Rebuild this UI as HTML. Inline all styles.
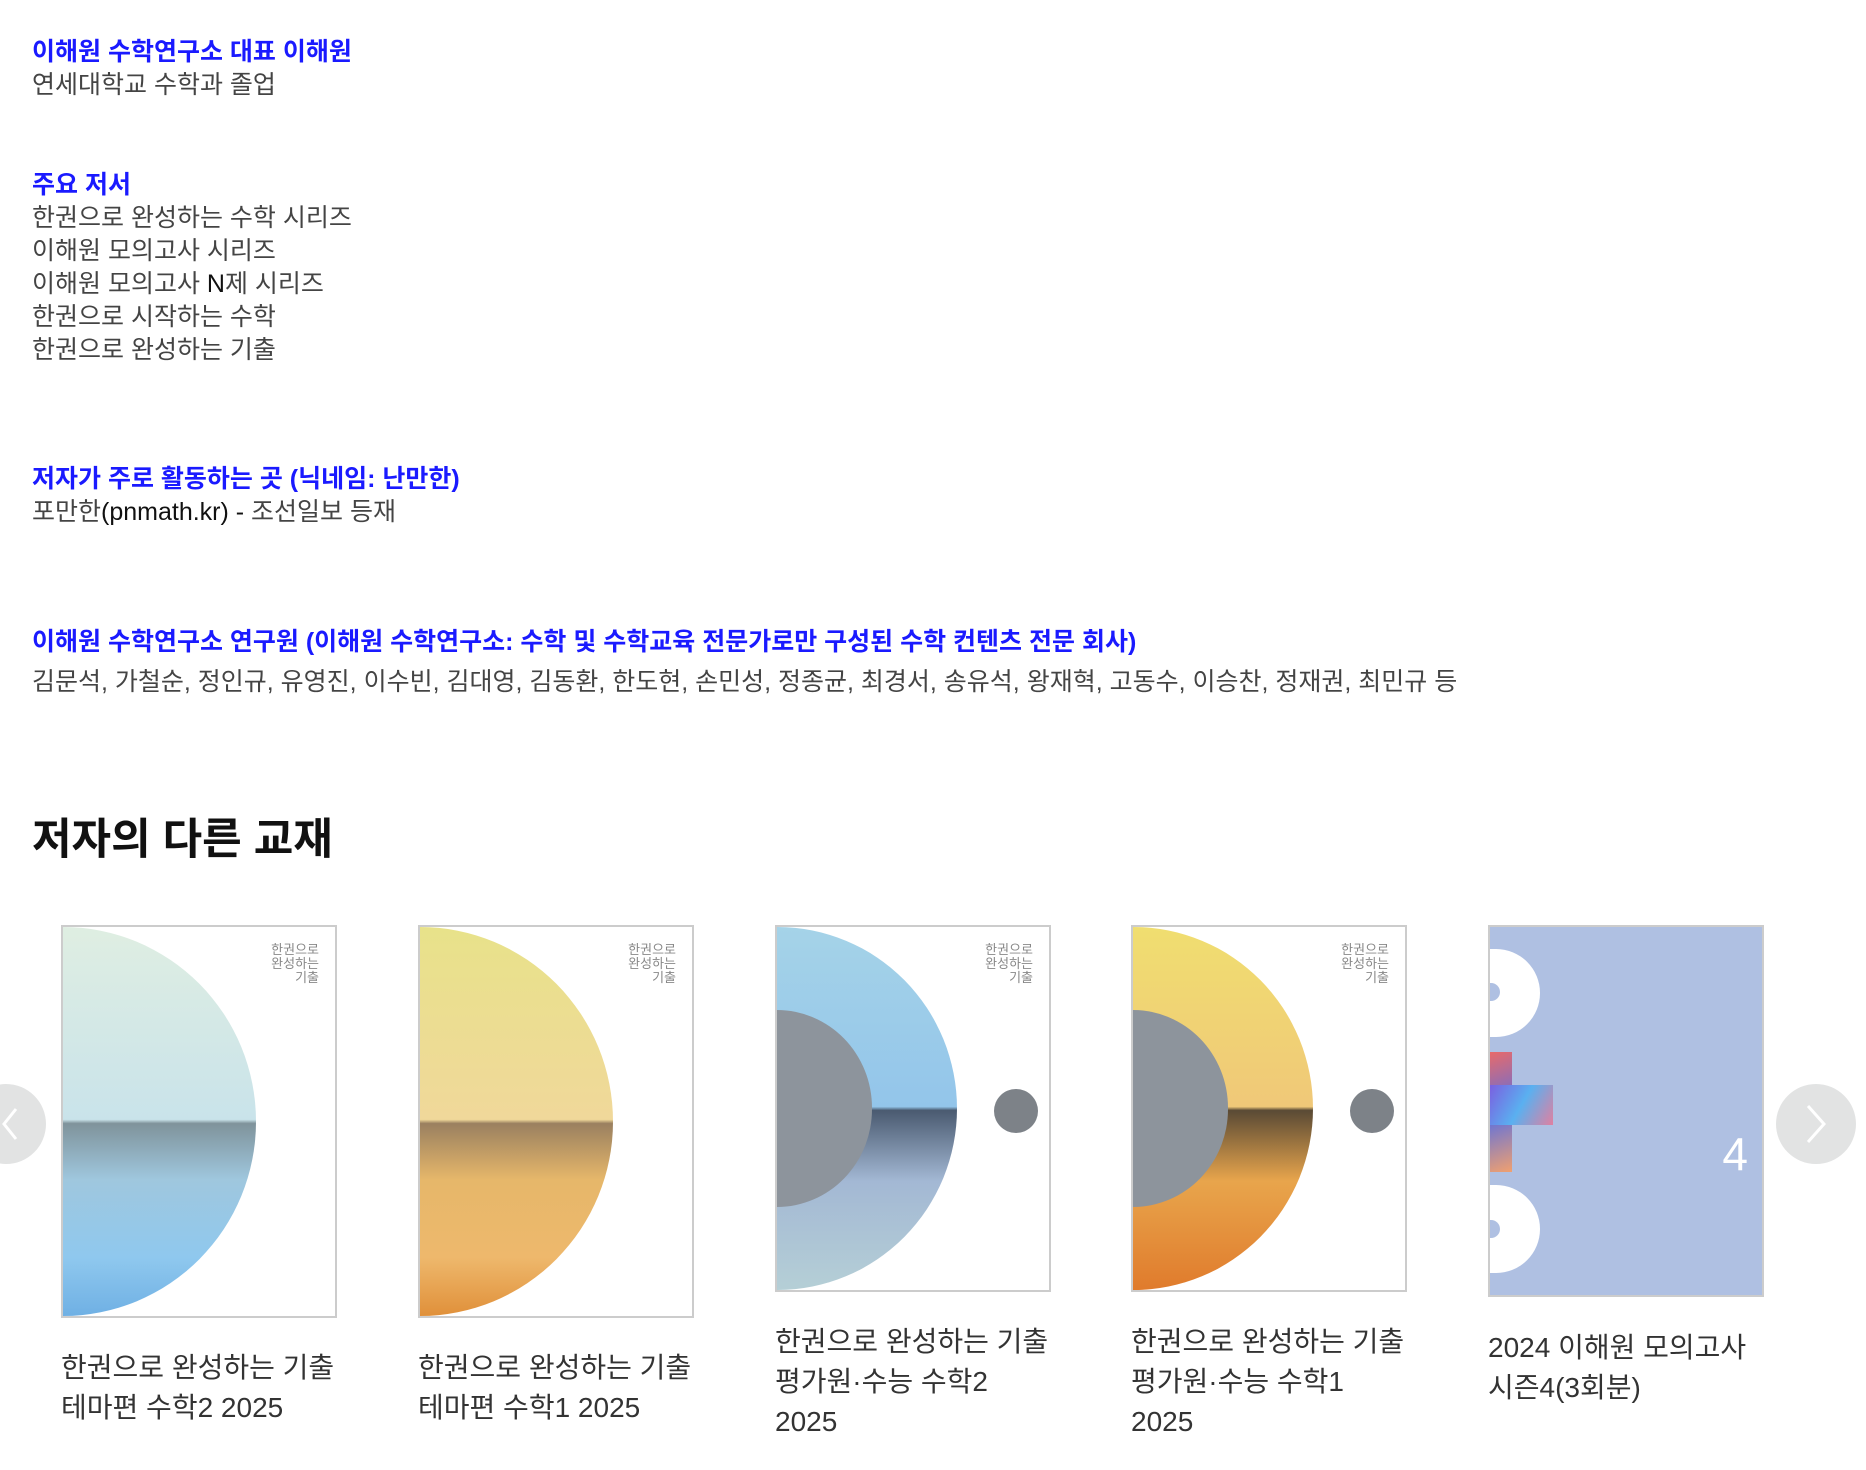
<!DOCTYPE html>
<html><head><meta charset="utf-8">
<style>
*{margin:0;padding:0;box-sizing:border-box}
body{width:1866px;height:1470px;background:#fff;position:relative;overflow:hidden;font-family:"Liberation Sans","Noto Sans CJK KR",sans-serif;color:#444}
.t{position:absolute;left:32px;font-size:25px;line-height:33px;white-space:nowrap}
.b{color:#1a1aff;font-weight:bold}
.h2{position:absolute;left:32px;top:805px;font-size:43px;font-weight:bold;color:#111}
.card{position:absolute;top:925px;width:276px;border:2px solid #ccc;overflow:hidden;background:#fff}
.semi{position:absolute;left:0;top:0;height:100%;border-radius:0 100% 100% 0/0 50% 50% 0;overflow:hidden}
.cap{position:absolute;font-size:28px;line-height:40px;color:#333;white-space:nowrap}
.arrow{position:absolute;width:80px;height:80px;border-radius:50%;background:#e2e3e3;top:1084px}
.ct{position:absolute;font-size:11px;color:#888;line-height:14px;text-align:right}
</style></head><body>
<div class="t b" style="top:36px">이해원 수학연구소 대표 이해원</div>
<div class="t" style="top:69px">연세대학교 수학과 졸업</div>
<div class="t b" style="top:169px">주요 저서</div>
<div class="t" style="top:202px">한권으로 완성하는 수학 시리즈</div>
<div class="t" style="top:235px">이해원 모의고사 시리즈</div>
<div class="t" style="top:268px">이해원 모의고사 <span style="color:#111">N</span>제 시리즈</div>
<div class="t" style="top:301px">한권으로 시작하는 수학</div>
<div class="t" style="top:334px">한권으로 완성하는 기출</div>
<div class="t b" style="top:463px">저자가 주로 활동하는 곳 (닉네임: 난만한)</div>
<div class="t" style="top:496px">포만한<span style="color:#111">(pnmath.kr) -</span> 조선일보 등재</div>
<div class="t b" style="top:626px">이해원 수학연구소 연구원 (이해원 수학연구소: 수학 및 수학교육 전문가로만 구성된 수학 컨텐츠 전문 회사)</div>
<div class="t" style="top:666px">김문석, 가철순, 정인규, 유영진, 이수빈, 김대영, 김동환, 한도현, 손민성, 정종균, 최경서, 송유석, 왕재혁, 고동수, 이승찬, 정재권, 최민규 등</div>
<div class="h2">저자의 다른 교재</div>

<div class="arrow" style="left:-34px"><svg width="80" height="80" style="position:absolute;left:0;top:0"><polyline points="50,25 38,40 50,55" fill="none" stroke="#fff" stroke-width="3"/></svg></div>
<div class="arrow" style="left:1776px"><svg width="80" height="80"><polyline points="32,22 48,40 32,58" fill="none" stroke="#fff" stroke-width="3"/></svg></div>

<div class="card" style="left:61px;height:393px">
 <div class="semi" style="width:71%;background:linear-gradient(180deg,#dfeee2 0%,#c9e3ea 49.5%,#7f939b 50.5%,#9fc7de 65%,#8fc8ee 85%,#6fb0e4 100%)"></div>
 <div class="ct" style="right:16px;top:16px;font-size:13px">한권으로<br>완성하는<br>기출</div>
</div>
<div class="cap" style="left:61px;top:1348px">한권으로 완성하는 기출<br>테마편 수학2 2025</div>

<div class="card" style="left:418px;height:393px">
 <div class="semi" style="width:71%;background:linear-gradient(180deg,#e8e28a 0%,#f0d89a 49.5%,#9a8060 50.5%,#e6b76a 65%,#eeb86c 85%,#e0903a 100%)"></div>
 <div class="ct" style="right:16px;top:16px;font-size:13px">한권으로<br>완성하는<br>기출</div>
</div>
<div class="cap" style="left:418px;top:1348px">한권으로 완성하는 기출<br>테마편 수학1 2025</div>

<div class="card" style="left:775px;height:367px">
 <div class="semi" style="width:66%;background:linear-gradient(180deg,#a5d3e8 0%,#93c5ea 49.5%,#4a5a70 50.5%,#a3b8d4 70%,#b5cfd6 100%)"></div>
 <div class="semi" style="width:35%;height:54%;top:23%;background:#8d949c"></div>
 <div style="position:absolute;left:217px;top:162px;width:44px;height:44px;border-radius:50%;background:#7d8288"></div>
 <div class="ct" style="right:16px;top:16px;font-size:13px">한권으로<br>완성하는<br>기출</div>
</div>
<div class="cap" style="left:775px;top:1322px">한권으로 완성하는 기출<br>평가원·수능 수학2<br>2025</div>

<div class="card" style="left:1131px;height:367px">
 <div class="semi" style="width:66%;background:linear-gradient(180deg,#f0de70 0%,#f0c878 49.5%,#5a4a35 50.5%,#e8a54c 70%,#e07b2c 100%)"></div>
 <div class="semi" style="width:35%;height:54%;top:23%;background:#8d949c"></div>
 <div style="position:absolute;left:217px;top:162px;width:44px;height:44px;border-radius:50%;background:#7d8288"></div>
 <div class="ct" style="right:16px;top:16px;font-size:13px">한권으로<br>완성하는<br>기출</div>
</div>
<div class="cap" style="left:1131px;top:1322px">한권으로 완성하는 기출<br>평가원·수능 수학1<br>2025</div>

<div class="card" style="left:1488px;height:372px;background:#afc0e2">
 <div style="position:absolute;left:-4px;top:22px;width:54px;height:88px;border-radius:0 44px 44px 0;background:#fff"></div>
 <div style="position:absolute;left:-4px;top:56px;width:14px;height:18px;border-radius:0 9px 9px 0;background:#afc0e2"></div>
 <div style="position:absolute;left:-4px;top:258px;width:54px;height:88px;border-radius:0 44px 44px 0;background:#fff"></div>
 <div style="position:absolute;left:-4px;top:293px;width:14px;height:18px;border-radius:0 9px 9px 0;background:#afc0e2"></div>
 <div style="position:absolute;left:0;top:125px;width:22px;height:120px;background:linear-gradient(160deg,#e86a6a,#5b6fe0,#f0a070)"></div>
 <div style="position:absolute;left:0;top:158px;width:63px;height:40px;background:linear-gradient(120deg,#7a60e0,#5ab0f0,#e080a0)"></div>
 <div style="position:absolute;right:14px;top:200px;font-size:46px;color:#fff;font-weight:300">4</div>
</div>
<div class="cap" style="left:1488px;top:1328px">2024 이해원 모의고사<br>시즌4(3회분)</div>
</body></html>
